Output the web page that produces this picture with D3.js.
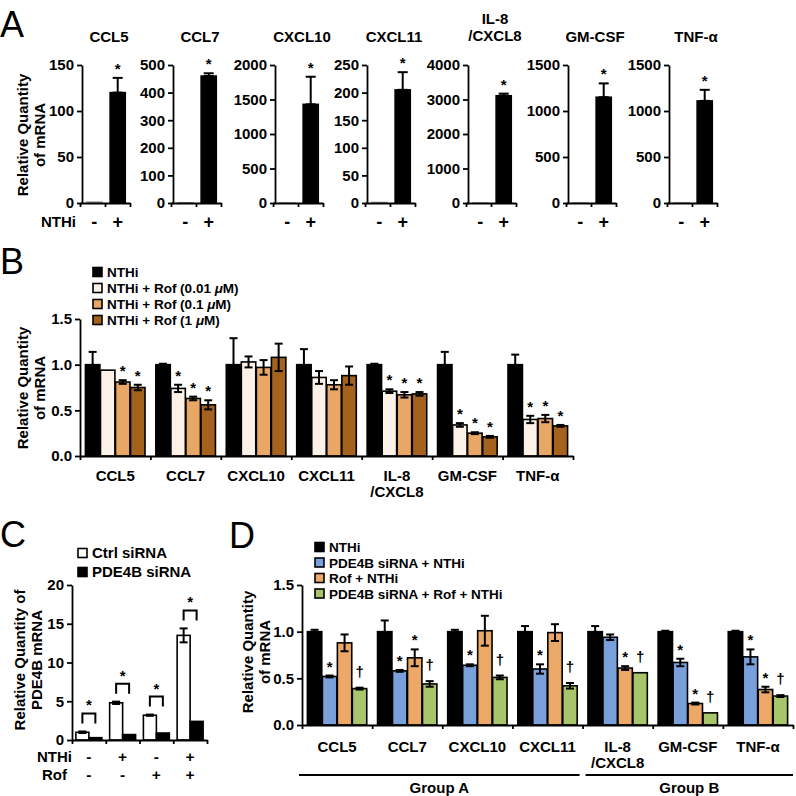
<!DOCTYPE html>
<html>
<head>
<meta charset="utf-8">
<script src="https://cdn.jsdelivr.net/npm/d3@7"></script>
<style>
  body { margin: 0; background: #fff; }
  svg text { font-family: "Liberation Sans", Arial, Helvetica, sans-serif; font-weight: bold; fill: #000; }
  svg text.letter { font-weight: normal; font-size: 36px; }
</style>
</head>
<body>
<svg id="fig" width="796" height="796"></svg>
<script>
/*    ========    DATA    =========    */

var GENES = ["CCL5", "CCL7", "CXCL10", "CXCL11", "IL-8\n/CXCL8", "GM-CSF", "TNF-α"];

// Panel A: NTHi - / +
var A_CTRL = [1, 1, 1, 1, 1, 1, 1];
var A_NTHI = [120, 460, 1430, 205, 3110, 1150, 1110];
var A_NTHI_ERR = [16, 10, 400, 32, 60, 150, 120];
var A_YMAX = [150, 500, 2000, 250, 4000, 1500, 1500];
var A_YSTEP = [50, 100, 500, 50, 1000, 500, 500];

// Panel B: roflumilast doses
var B_SERIES = ["NTHi", "NTHi + Rof (0.01 μM)", "NTHi + Rof (0.1 μM)", "NTHi + Rof (1 μM)"];
var B_VALUES = [
    [1.00, 0.94, 0.81, 0.75],
    [1.00, 0.74, 0.63, 0.56],
    [1.00, 1.03, 0.97, 1.08],
    [1.00, 0.86, 0.78, 0.88],
    [1.00, 0.71, 0.67, 0.68],
    [1.00, 0.34, 0.25, 0.21],
    [1.00, 0.40, 0.41, 0.33]
];
var B_ERRORS = [
    [0.14, 0.00, 0.02, 0.03],
    [0.01, 0.04, 0.02, 0.05],
    [0.29, 0.06, 0.08, 0.15],
    [0.17, 0.07, 0.05, 0.10],
    [0.01, 0.02, 0.03, 0.02],
    [0.14, 0.02, 0.01, 0.01],
    [0.11, 0.04, 0.04, 0.01]
];
var B_MARKS = [
    ["", "", "*", "*"],
    ["", "*", "*", "*"],
    ["", "", "", ""],
    ["", "", "", ""],
    ["", "*", "*", "*"],
    ["", "*", "*", "*"],
    ["", "*", "*", "*"]
];

// Panel C: PDE4B knockdown
var C_SERIES = ["Ctrl siRNA", "PDE4B siRNA"];
var C_NTHI = ["-", "+", "-", "+"];
var C_ROF = ["-", "-", "+", "+"];
var C_CTRL = [1.0, 4.8, 3.2, 13.5];
var C_CTRL_ERR = [0.1, 0.15, 0.08, 0.9];
var C_PDE = [0.3, 0.7, 0.9, 2.4];
var C_PDE_ERR = [0.04, 0.05, 0.05, 0.1];

// Panel D: siRNA + Rof
var D_SERIES = ["NTHi", "PDE4B siRNA + NTHi", "Rof + NTHi", "PDE4B siRNA + Rof + NTHi"];
var D_VALUES = [
    [1.00, 0.52, 0.88, 0.39],
    [1.00, 0.58, 0.72, 0.44],
    [1.00, 0.64, 1.01, 0.51],
    [1.00, 0.60, 0.99, 0.42],
    [1.00, 0.94, 0.61, 0.56],
    [1.00, 0.67, 0.23, 0.13],
    [1.00, 0.73, 0.38, 0.31]
];
var D_ERRORS = [
    [0.02, 0.01, 0.09, 0.01],
    [0.12, 0.01, 0.09, 0.03],
    [0.02, 0.01, 0.16, 0.02],
    [0.06, 0.05, 0.09, 0.03],
    [0.06, 0.03, 0.02, 0.00],
    [0.01, 0.04, 0.01, 0.00],
    [0.01, 0.08, 0.03, 0.01]
];
var D_MARKS = [
    ["", "*", "", "†"],
    ["", "*", "*", "†"],
    ["", "*", "", "†"],
    ["", "*", "", "†"],
    ["", "", "*", "†"],
    ["", "*", "*", "†"],
    ["", "*", "*", "†"]
];
var D_GROUPS = ["Group A", "Group B"];
var D_GROUP_SPANS = [[0, 4], [4, 7]];

/*    ========    SETTINGS    =========    */

var svg = d3.select("#fig");

var B_COLORS = ["#000000", "#fcf1e6", "#e9a765", "#a5621f"];
var D_COLORS = ["#000000", "#7aa0dc", "#eca866", "#a9c56c"];
var C_COLORS = ["#ffffff", "#000000"];

var A_AXIS_X = [82, 173, 275, 367, 468, 568, 669];   // left axis of each small chart
var A_W = 48, A_TOP = 65, A_BOT = 203;

var TICK_FS = 15, LABEL_FS = 15, LEGEND_FS = 13.5;

/*    ========    FUNCTIONS    =========    */

function styleAxis(g) {
    g.select(".domain").attr("stroke", "#000").attr("stroke-width", 1.8);
    g.selectAll(".tick line").attr("stroke", "#000").attr("stroke-width", 1.8);
    g.selectAll(".tick text")
        .attr("font-size", TICK_FS)
        .attr("font-family", "Liberation Sans, Arial, sans-serif")
        .attr("font-weight", "bold")
        .attr("fill", "#000");
}

function multiline(sel, label, lineH) {
    label.split("\n").forEach(function(t, i) {
        sel.append("tspan").attr("x", sel.attr("x")).attr("dy", i === 0 ? 0 : lineH).text(t);
    });
}

function yTitle(x, y, lines) {
    var t = svg.append("g").attr("transform", "translate(" + x + "," + y + ") rotate(-90)");
    lines.forEach(function(s, i) {
        t.append("text").attr("x", 0).attr("y", i * 17)
            .attr("text-anchor", "middle").attr("font-size", LABEL_FS).text(s);
    });
}

function letter(s, x, y) {
    svg.append("text").attr("class", "letter").attr("x", x).attr("y", y).text(s);
}

function errBar(g, cx, y1, y2, cap) {
    g.append("line").attr("x1", cx).attr("x2", cx).attr("y1", y1).attr("y2", y2);
    g.append("line").attr("x1", cx - cap / 2).attr("x2", cx + cap / 2).attr("y1", y1).attr("y2", y1);
    g.append("line").attr("x1", cx - cap / 2).attr("x2", cx + cap / 2).attr("y1", y2).attr("y2", y2);
}

function legendLabel(sel, label) {
    // italic mu
    label.split("μ").forEach(function(part, i) {
        if (i > 0) sel.append("tspan").attr("font-style", "italic").text("μ");
        sel.append("tspan").text(part);
    });
}

function legend(x, y0, dy, names, colors, size) {
    names.forEach(function(n, i) {
        var cy = y0 + i * dy;
        svg.append("rect").attr("x", x).attr("y", cy - 4.5).attr("width", 9).attr("height", 9)
            .attr("fill", colors[i]).attr("stroke", "#000").attr("stroke-width", 1.6);
        var t = svg.append("text").attr("x", x + 14).attr("y", cy + 5).attr("font-size", size);
        legendLabel(t, n);
    });
}

// == Panel A == //
function drawPanelA() {
    letter("A", 0, 37);
    yTitle(28, 135, ["Relative Quantity", "of mRNA"]);

    GENES.forEach(function(gene, i) {
        var x0 = A_AXIS_X[i];
        var g = svg.append("g");

        var y = d3.scaleLinear().domain([0, A_YMAX[i]]).range([A_BOT, A_TOP]);
        var x = d3.scaleBand().domain(["-", "+"]).range([x0, x0 + A_W])
            .paddingInner(0.35).paddingOuter(0.2);

        var bars = [
            { k: "-", v: A_CTRL[i], e: 0 },
            { k: "+", v: A_NTHI[i], e: A_NTHI_ERR[i] }
        ];

        g.selectAll("rect.bar").data(bars).enter().append("rect")
            .attr("class", "bar")
            .attr("x", function(d) { return x(d.k); })
            .attr("y", function(d) { return y(d.v); })
            .attr("width", x.bandwidth())
            .attr("height", function(d) { return A_BOT - y(d.v); })
            .attr("fill", function(d) { return d.k === "+" ? "#000" : "#fff"; })
            .attr("stroke", function(d) { return d.k === "+" ? "#000" : "#999"; })
            .attr("stroke-width", 1.5);

        var eg = g.append("g").attr("stroke", "#000").attr("stroke-width", 2);
        var b = bars[1];
        errBar(eg, x(b.k) + x.bandwidth() / 2, y(b.v + b.e), y(b.v), 10);

        g.append("text").attr("x", x("+") + x.bandwidth() / 2).attr("y", y(b.v + b.e) - 4)
            .attr("text-anchor", "middle").attr("font-size", 15).text("*");

        g.append("g").attr("transform", "translate(" + x0 + ",0)")
            .call(d3.axisLeft(y).tickValues(d3.range(0, A_YMAX[i] + 1, A_YSTEP[i]))
                .tickFormat(d3.format("d"))
                .tickSize(5).tickSizeOuter(0).tickPadding(3))
            .call(styleAxis);

        g.append("g").attr("transform", "translate(0," + A_BOT + ")")
            .call(d3.axisBottom(d3.scaleLinear().domain([0, 2]).range([x0 - 2, x0 + A_W]))
                .tickValues([0, 1, 2]).tickFormat("").tickSize(4).tickSizeOuter(0))
            .call(styleAxis);

        ["-", "+"].forEach(function(k) {
            g.append("text").attr("x", x(k) + x.bandwidth() / 2).attr("y", 228)
                .attr("text-anchor", "middle").attr("font-size", 18).text(k);
        });

        var lines = gene.split("\n");
        var title = g.append("text").attr("x", x0 + 27).attr("y", lines.length > 1 ? 24 : 42)
            .attr("text-anchor", "middle").attr("font-size", LABEL_FS);
        multiline(title, gene, 17);
    });

    svg.append("text").attr("x", 76).attr("y", 227).attr("text-anchor", "end")
        .attr("font-size", LABEL_FS).text("NTHi");
}

// == Grouped bars (panels B and D) == //
function drawGrouped(left, right, y0, yTop, values, errors, marks, colors, labelY) {
    var n = GENES.length;
    var y = d3.scaleLinear().domain([0, 1.5]).range([y0, yTop]);
    var xg = d3.scaleLinear().domain([0, n]).range([left, right]);
    var gw = xg(1) - xg(0);
    var xs = d3.scaleBand().domain(d3.range(4)).range([0, gw]).paddingInner(0.04).paddingOuter(0.36);

    var g = svg.append("g");

    GENES.forEach(function(gene, i) {
        var gx = xg(i);
        var cells = values[i].map(function(v, j) {
            return { j: j, v: v, e: errors[i][j], m: marks[i][j] };
        });

        g.selectAll(null).data(cells).enter().append("rect")
            .attr("x", function(d) { return gx + xs(d.j); })
            .attr("y", function(d) { return y(d.v); })
            .attr("width", xs.bandwidth())
            .attr("height", function(d) { return y0 - y(d.v); })
            .attr("fill", function(d) { return colors[d.j]; })
            .attr("stroke", "#000")
            .attr("stroke-width", 1.6);

        var eg = g.append("g").attr("stroke", "#000").attr("stroke-width", 2);
        cells.forEach(function(d) {
            if (d.e > 0) {
                var cx = gx + xs(d.j) + xs.bandwidth() / 2;
                errBar(eg, cx, y(d.v + d.e), y(d.v - d.e), 8);
            }
        });

        cells.forEach(function(d) {
            if (!d.m) return;
            var cx = gx + xs(d.j) + xs.bandwidth() / 2;
            var off = d.m === "†" ? 11 : 4;
            g.append("text").attr("x", cx).attr("y", y(d.v + d.e) - off)
                .attr("text-anchor", "middle").attr("font-size", 15).text(d.m);
        });

        var t = g.append("text").attr("x", gx + gw / 2).attr("y", labelY)
            .attr("text-anchor", "middle").attr("font-size", LABEL_FS);
        multiline(t, gene, 16);
    });

    g.append("g").attr("transform", "translate(" + left + ",0)")
        .call(d3.axisLeft(y).tickValues([0, 0.5, 1.0, 1.5]).tickFormat(d3.format(".1f"))
            .tickSize(5).tickSizeOuter(0).tickPadding(3))
        .call(styleAxis);

    g.append("g").attr("transform", "translate(0," + y0 + ")")
        .call(d3.axisBottom(xg).tickValues(d3.range(0, n + 1)).tickFormat("")
            .tickSize(4).tickSizeOuter(0))
        .call(styleAxis);

    return xg;
}

function drawPanelB() {
    letter("B", 0, 274);
    legend(93, 272, 16, B_SERIES, B_COLORS, LEGEND_FS);
    yTitle(28, 388, ["Relative Quantity", "of mRNA"]);
    drawGrouped(80, 573, 456, 319, B_VALUES, B_ERRORS, B_MARKS, B_COLORS, 481);
}

function drawPanelD() {
    letter("D", 229, 548);
    legend(315, 547, 15.5, D_SERIES, D_COLORS, LEGEND_FS);
    yTitle(253, 652, ["Relative Quantity", "of mRNA"]);
    var xg = drawGrouped(302, 793, 725, 585, D_VALUES, D_ERRORS, D_MARKS, D_COLORS, 752);

    D_GROUPS.forEach(function(name, k) {
        var a = xg(D_GROUP_SPANS[k][0]) + (k === 0 ? -3 : 3);
        var b = xg(D_GROUP_SPANS[k][1]) - (k === 0 ? 3 : 0);
        svg.append("line").attr("x1", a).attr("x2", b).attr("y1", 775).attr("y2", 775)
            .attr("stroke", "#000").attr("stroke-width", 2);
        svg.append("text").attr("x", (a + b) / 2).attr("y", 793)
            .attr("text-anchor", "middle").attr("font-size", LABEL_FS).text(name);
    });
}

// == Panel C == //
function drawPanelC() {
    letter("C", 0, 547);
    legend(78, 553, 19, C_SERIES, C_COLORS, LABEL_FS);
    yTitle(25, 660, ["Relative Quantity of", "PDE4B mRNA"]);

    var left = 72, right = 207, y0 = 740, yTop = 585;
    var y = d3.scaleLinear().domain([0, 20]).range([y0, yTop]);
    var xg = d3.scaleLinear().domain([0, C_CTRL.length]).range([left, right]);
    var gw = xg(1) - xg(0);
    var xs = d3.scaleBand().domain([0, 1]).range([0, gw]).paddingInner(0).paddingOuter(0.3);

    var g = svg.append("g");
    var eg = g.append("g").attr("stroke", "#000").attr("stroke-width", 2);

    C_CTRL.forEach(function(v, i) {
        var gx = xg(i);
        var cells = [
            { j: 0, v: v, e: C_CTRL_ERR[i] },
            { j: 1, v: C_PDE[i], e: C_PDE_ERR[i] }
        ];
        g.selectAll(null).data(cells).enter().insert("rect", "g")
            .attr("x", function(d) { return gx + xs(d.j); })
            .attr("y", function(d) { return y(d.v); })
            .attr("width", xs.bandwidth())
            .attr("height", function(d) { return y0 - y(d.v); })
            .attr("fill", function(d) { return C_COLORS[d.j]; })
            .attr("stroke", "#000")
            .attr("stroke-width", 1.6);

        errBar(eg, gx + xs(0) + xs.bandwidth() / 2, y(v + C_CTRL_ERR[i]), y(v - C_CTRL_ERR[i]), 8);

        // significance bracket
        var c0 = gx + xs(0) + xs.bandwidth() / 2, c1 = gx + xs(1) + xs.bandwidth() / 2;
        var top = y(v + C_CTRL_ERR[i]) - 18;
        g.append("path")
            .attr("d", "M" + c0 + "," + (top + 10) + "V" + top + "H" + c1 + "V" + (top + 10))
            .attr("fill", "none").attr("stroke", "#000").attr("stroke-width", 2);
        g.append("text").attr("x", (c0 + c1) / 2).attr("y", top - 3)
            .attr("text-anchor", "middle").attr("font-size", 15).text("*");

        g.append("text").attr("x", gx + gw / 2).attr("y", 762)
            .attr("text-anchor", "middle").attr("font-size", 15.5).text(C_NTHI[i]);
        g.append("text").attr("x", gx + gw / 2).attr("y", 780)
            .attr("text-anchor", "middle").attr("font-size", 15.5).text(C_ROF[i]);
    });

    g.append("g").attr("transform", "translate(" + left + ",0)")
        .call(d3.axisLeft(y).tickValues([0, 5, 10, 15, 20]).tickSize(5).tickSizeOuter(0).tickPadding(3))
        .call(styleAxis);

    g.append("g").attr("transform", "translate(0," + y0 + ")")
        .call(d3.axisBottom(xg).tickValues(d3.range(0, 5)).tickFormat("").tickSize(4).tickSizeOuter(0))
        .call(styleAxis);

    svg.append("text").attr("x", 72).attr("y", 762).attr("text-anchor", "end").attr("font-size", LABEL_FS).text("NTHi");
    svg.append("text").attr("x", 67).attr("y", 780).attr("text-anchor", "end").attr("font-size", LABEL_FS).text("Rof");
}

/*    ========    RUN    =========    */

drawPanelA();
drawPanelB();
drawPanelC();
drawPanelD();
</script>
</body>
</html>
